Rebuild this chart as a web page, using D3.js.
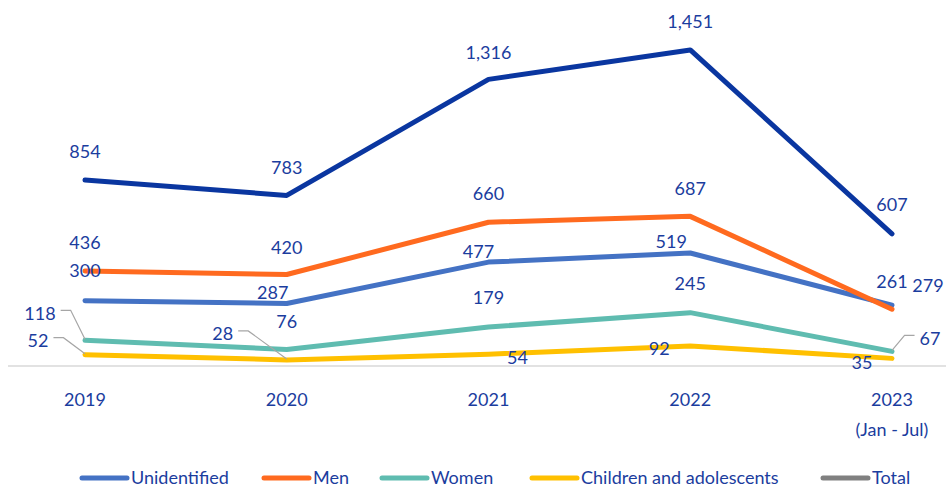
<!DOCTYPE html>
<html>
<head>
<meta charset="utf-8">
<script src="https://cdn.jsdelivr.net/npm/d3@7"></script>
<style>
  body { margin: 0; background: #ffffff; }
  svg { display: block; }
</style>
</head>
<body>
<div id="chart"></div>
<script>
const years = ['2019', '2020', '2021', '2022', '2023']
const unidentified = [300, 287, 477, 519, 279]
const men = [436, 420, 660, 687, 261]
const women = [118, 76, 179, 245, 67]
const children = [52, 28, 54, 92, 35]
const total = [854, 783, 1316, 1451, 607]

const W = 948
const H = 487
const TEXT = '#1b3d9e'
const FONT = 'Lato, "Open Sans", sans-serif'
const FS = 18

// label offsets from each point, px [dx, dy, leader?]
const series = [
  { name: 'Unidentified', values: unidentified, color: '#4472c4',
    labels: [[0, -30], [-14, -11], [-10, -10], [-19, -11], [36, -20]] },
  { name: 'Men', values: men, color: '#ff6a1f',
    labels: [[0, -28], [0, -27], [0, -29], [0, -28], [0, -27]] },
  { name: 'Women', values: women, color: '#5fbcb0',
    labels: [[-45, -27, 'l'], [0, -28], [0, -29], [0, -29], [38, -13, 'r']] },
  { name: 'Children and adolescents', values: children, color: '#ffc000',
    labels: [[-47, -14, 'l'], [-64, -26, 'l'], [29, 3], [-31, 3], [-30, 4]] },
  { name: 'Total', values: total, color: '#0a36a0', legendColor: '#808080',
    labels: [[0, -28], [0, -28], [0, -27], [0, -28], [0, -29]] }
]

const svg = d3.select('#chart').append('svg').attr('width', W).attr('height', H)

const x = d3.scalePoint().domain(years).range([85, 892])
const y = d3.scaleLinear().domain([0, 1600]).range([366, 17.5])

// baseline
svg.append('line')
  .attr('x1', 8).attr('x2', 946)
  .attr('y1', y(0)).attr('y2', y(0))
  .attr('stroke', '#d9d9d9').attr('stroke-width', 1.5)

// category labels
const xAxis = svg.append('g')
years.forEach((yr) => {
  xAxis.append('text')
    .attr('x', x(yr)).attr('y', 400)
    .attr('dy', '0.35em')
    .attr('text-anchor', 'middle')
    .attr('fill', TEXT)
    .attr('font-family', FONT)
    .attr('font-size', FS)
    .text(yr)
})
xAxis.append('text')
  .attr('x', x('2023')).attr('y', 430)
  .attr('dy', '0.35em')
  .attr('text-anchor', 'middle')
  .attr('fill', TEXT)
  .attr('font-family', FONT)
  .attr('font-size', FS)
  .text('(Jan - Jul)')

const line = d3.line().x((d, i) => x(years[i])).y((d) => y(d))

series.forEach((s) => {
  svg.append('path')
    .datum(s.values)
    .attr('d', line)
    .attr('fill', 'none')
    .attr('stroke', s.color)
    .attr('stroke-width', 5)
    .attr('stroke-linejoin', 'round')
    .attr('stroke-linecap', 'round')
})

const labels = svg.append('g')
series.forEach((s) => {
  s.values.forEach((v, i) => {
    const [dx, dy, leader] = s.labels[i]
    const px = x(years[i])
    const py = y(v)
    const t = labels.append('text')
      .attr('x', px + dx).attr('y', py + dy)
      .attr('dy', '0.35em')
      .attr('text-anchor', 'middle')
      .attr('fill', TEXT)
      .attr('font-family', FONT)
      .attr('font-size', FS)
      .text(d3.format(',')(v))
    if (leader) {
      const half = t.node().getComputedTextLength() / 2
      const side = leader === 'l' ? 1 : -1
      const sx = px + dx + side * (half + 5)
      const sy = py + dy - 3
      labels.append('polyline')
        .attr('points', [[sx, sy], [sx + side * 10, sy], [px, py - 1]].map((p) => p.join(',')).join(' '))
        .attr('fill', 'none')
        .attr('stroke', '#a6a6a6')
        .attr('stroke-width', 1.2)
    }
  })
})

// legend
const legendX = [80, 262, 380, 530, 821]
const legend = svg.append('g').attr('transform', 'translate(0, 478)')
series.forEach((s, i) => {
  const g = legend.append('g').attr('transform', `translate(${legendX[i]}, 0)`)
  g.append('line')
    .attr('x1', 2).attr('x2', 47)
    .attr('y1', 0).attr('y2', 0)
    .attr('stroke', s.legendColor || s.color)
    .attr('stroke-width', 5)
    .attr('stroke-linecap', 'round')
  g.append('text')
    .attr('x', 51).attr('y', 0)
    .attr('dy', '0.35em')
    .attr('fill', TEXT)
    .attr('font-family', FONT)
    .attr('font-size', FS)
    .text(s.name)
})
</script>
</body>
</html>
